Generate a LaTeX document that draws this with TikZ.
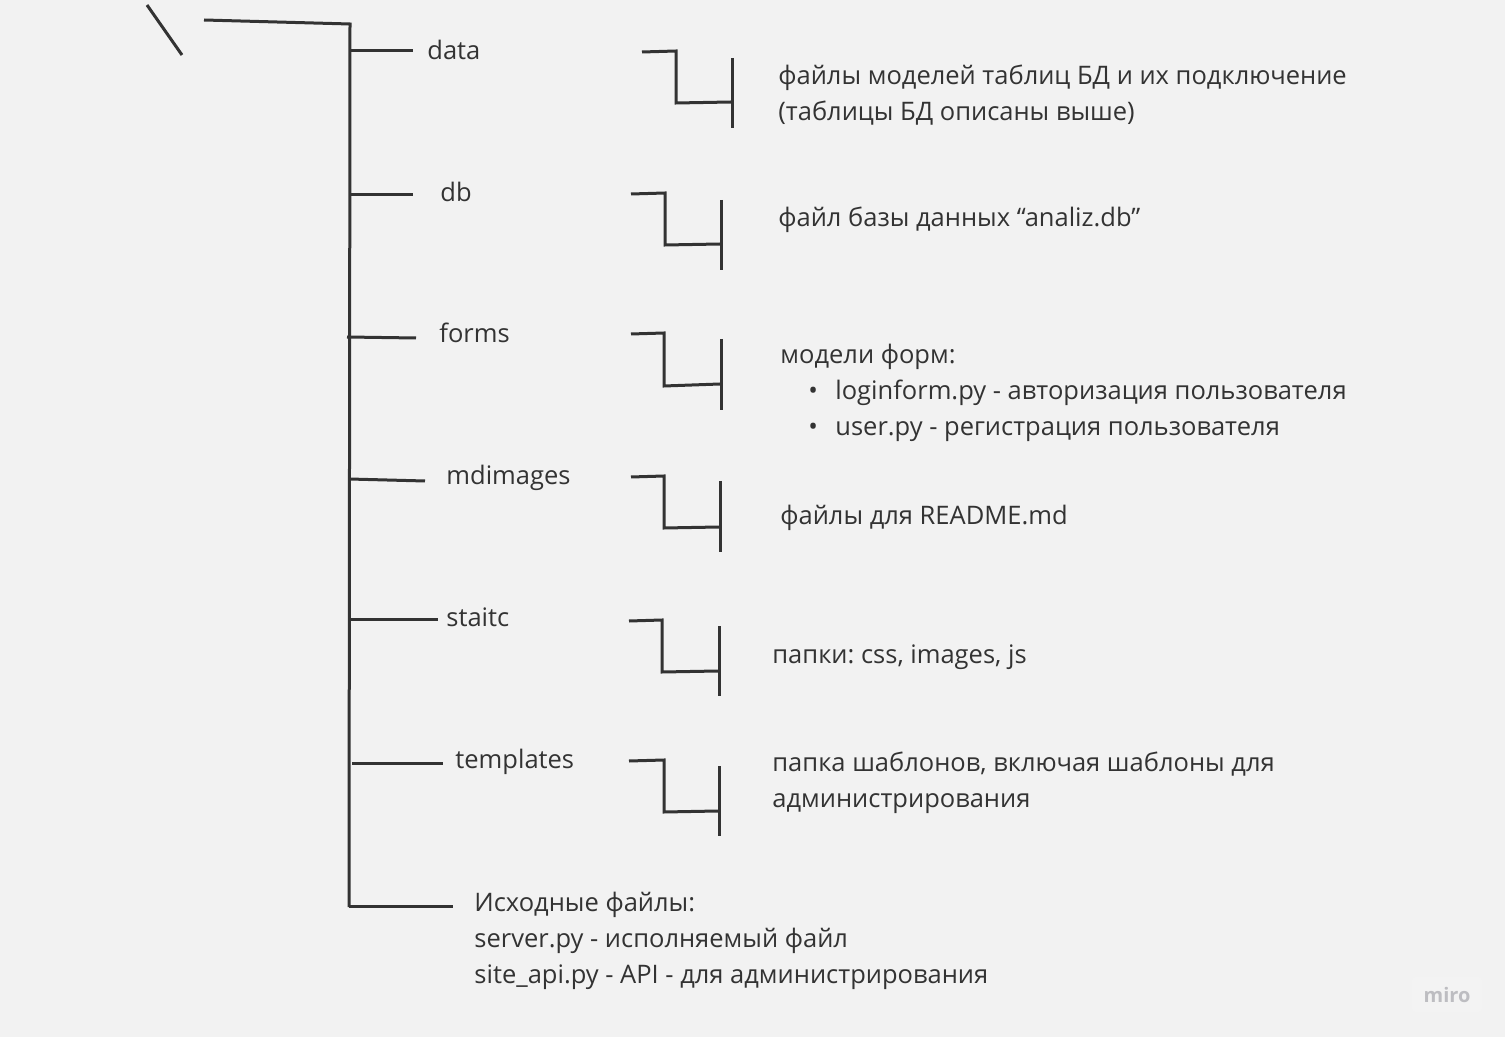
\documentclass[tikz,border=0pt]{standalone}
\usepackage{fontspec}
\setmainfont{Open Sans}
\usepackage{xcolor}
\usetikzlibrary{positioning}
\definecolor{ink}{HTML}{333333}
\definecolor{board}{HTML}{F2F2F2}
\definecolor{logo}{HTML}{BDBDC1}
\frenchspacing

\begin{document}
\begin{tikzpicture}[
x=0.5pt, y=-0.5pt,
ln/.style={draw=ink, line width=1.5pt},
lbl/.style={anchor=base west, inner sep=0pt, text=ink, font=\fontsize{12.75}{18}\selectfont},
desc/.style={anchor=base west, inner sep=0pt, text=ink, align=left, font=\fontsize{12.75}{18}\selectfont}
]
\fill[board] (0,0) rectangle (1505,1037);
\useasboundingbox (0,0) rectangle (1505,1037);

% root
\draw[ln] (147,5) -- (182,55);
\coordinate (root) at (204,20);
\coordinate (top) at (350,24);
\coordinate (bot) at (349,907);
\draw[ln] (root) -- (top) -- (bot);

% folders
\node[lbl] (data) at (427,60) {data};
\node[lbl] (db) at (440,202) {db};
\node[lbl] (forms) at (439,343) {forms};
\node[lbl] (mdimg) at (446,485) {mdimages};
\node[lbl] (static) at (446,626) {staitc};
\node[lbl] (tmpl) at (455,768) {templates};
\node[desc] (src) at (474,983) {Исходные файлы:\\server.py - исполняемый файл\\site\_api.py - API - для администрирования};

% branches
\coordinate (t1) at (349,51);  \coordinate (e1) at (413,51);
\coordinate (t2) at (349,195); \coordinate (e2) at (413,195);
\coordinate (t3) at (347,337); \coordinate (e3) at (416,338);
\coordinate (t4) at (349,479); \coordinate (e4) at (425,481);
\coordinate (t5) at (349,619); \coordinate (e5) at (438,619);
\coordinate (t6) at (352,763); \coordinate (e6) at (443,763);
\coordinate (t7) at (349,906); \coordinate (e7) at (453,906);
\draw[ln] (t1) -- (e1);
\draw[ln] (t2) -- (e2);
\draw[ln] (t3) -- (e3);
\draw[ln] (t4) -- (e4);
\draw[ln] (t5) -- (e5);
\draw[ln] (t6) -- (e6);
\draw[ln] (t7) -- (e7);

% brackets
\draw[ln] (642,52) -- (676,51) -- (676,103) -- (731,102);
\draw[ln] (732,58) -- (732,128);
\draw[ln] (631,194) -- (665,193) -- (665,245) -- (720,244);
\draw[ln] (721,200) -- (721,270);
\draw[ln] (631,334) -- (664,333) -- (664,386) -- (720,384);
\draw[ln] (721,339) -- (721,410);
\draw[ln] (631,477) -- (664,476) -- (664,528) -- (719,527);
\draw[ln] (720,481) -- (720,552);
\draw[ln] (629,621) -- (662,620) -- (662,672) -- (718,671);
\draw[ln] (719,626) -- (719,696);
\draw[ln] (629,761) -- (664,760) -- (664,812) -- (718,811);
\draw[ln] (719,766) -- (719,836);

% descriptions
\node[desc] (dData) at (778,121) {файлы моделей таблиц БД и их подключение\\(таблицы БД описаны выше)};
\node[desc] (dDb) at (778,227) {файл базы данных “analiz.db”};
\node[desc] (dForms) at (780,436) {модели форм:\\\hspace*{14pt}\makebox[13.5pt][l]{\textbullet}loginform.py - авторизация пользователя\\\hspace*{14pt}\makebox[13.5pt][l]{\textbullet}user.py - регистрация пользователя};
\node[desc] (dMd) at (780,524) {файлы для README.md};
\node[desc] (dStatic) at (772,663) {папки: css, images, js};
\node[desc] (dTmpl) at (772,807) {папка шаблонов, включая шаблоны для\\администрирования};

% logo
\fill[white, opacity=0.12, rounded corners=2pt] (1412,977) rectangle (1482,1012);
\node[text=logo, font=\bfseries\fontsize{10}{11}\selectfont] (miro) at (1447,995) {miro};
\end{tikzpicture}
\end{document}
